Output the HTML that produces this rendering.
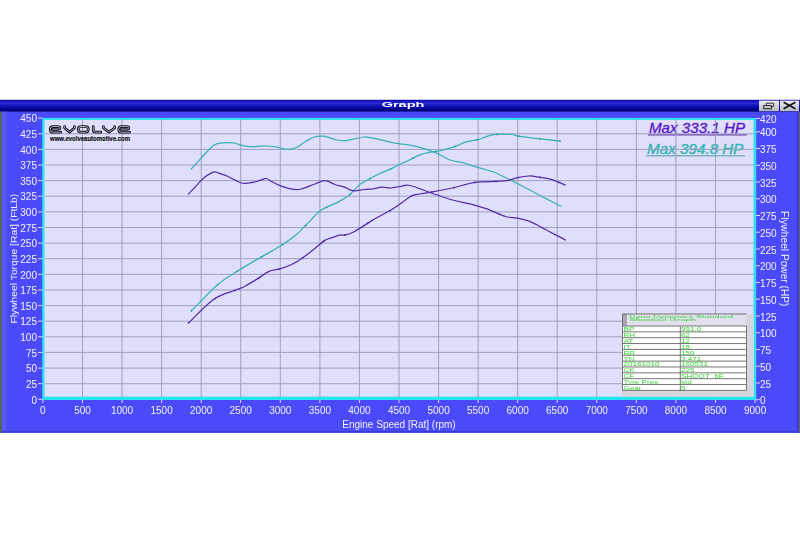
<!DOCTYPE html>
<html><head><meta charset="utf-8">
<style>
html,body{margin:0;padding:0;background:#fff;width:800px;height:533px;overflow:hidden}
svg{display:block;filter:blur(0.3px);font-family:"Liberation Sans",sans-serif}
</style></head><body>
<svg width="800" height="533" viewBox="0 0 800 533">
<defs>
<linearGradient id="tb" x1="0" y1="0" x2="0" y2="1">
<stop offset="0" stop-color="#000088"/>
<stop offset="0.1" stop-color="#1414c4"/>
<stop offset="0.32" stop-color="#2a2ad2"/>
<stop offset="0.5" stop-color="#1212b8"/>
<stop offset="0.7" stop-color="#0606a2"/>
<stop offset="0.88" stop-color="#000074"/>
<stop offset="1" stop-color="#000074"/>
</linearGradient>
<linearGradient id="btn" x1="0" y1="0" x2="0" y2="1">
<stop offset="0" stop-color="#ececf0"/>
<stop offset="1" stop-color="#b8b8c4"/>
</linearGradient>
</defs>
<!-- window -->
<rect x="0" y="100" width="800" height="332.7" fill="#4a4af8"/>
<rect x="0" y="431.2" width="800" height="1.5" fill="#3838d0"/>
<rect x="0" y="99.8" width="800" height="11.8" fill="url(#tb)"/>
<rect x="0" y="111.6" width="2" height="321.1" fill="#5c625e"/>
<rect x="2" y="111.6" width="4.6" height="319.6" fill="#5858fa"/>
<rect x="796.4" y="111.6" width="2.4" height="321.1" fill="#3c3cd8"/>
<rect x="798.8" y="111.6" width="1.2" height="321.1" fill="#5e6470"/>
<text x="0" y="0" transform="translate(403 107.3) scale(2.2 1)" text-anchor="middle" font-size="6.6" font-weight="bold" fill="#fff">Graph</text>
<!-- buttons -->
<rect x="759" y="100.6" width="20" height="10.6" fill="url(#btn)"/>
<rect x="780" y="100.6" width="19" height="10.6" fill="url(#btn)"/>
<rect x="763.8" y="105.6" width="7.6" height="3.2" fill="none" stroke="#222" stroke-width="1"/>
<path d="M766.3,105.1 v-1.9 h7.4 v3.2 h-1.9" fill="none" stroke="#222" stroke-width="0.9"/>
<path d="M783.6,102.2 L795.4,108.8 M795.4,102.2 L783.6,108.8" stroke="#111" stroke-width="1.6"/>
<!-- plot -->
<rect x="42.2" y="117.9" width="714" height="282.1" fill="#28e4f0"/>
<rect x="44.5" y="119.9" width="709" height="276.7" fill="#dfdefb"/>
<!-- max text -->
<text x="649" y="133.4" font-size="14.8" font-style="italic" fill="#5818c8" stroke="#5818c8" stroke-width="0.35" textLength="96" lengthAdjust="spacingAndGlyphs">Max 333.1 HP</text>
<rect x="648" y="134.3" width="99" height="1.2" fill="#6a3aa8"/>
<text x="647" y="153.5" font-size="14.8" font-style="italic" fill="#2eb6b0" stroke="#2eb6b0" stroke-width="0.35" textLength="96.5" lengthAdjust="spacingAndGlyphs">Max 394.8 HP</text>
<rect x="646" y="155.2" width="99" height="1.2" fill="#68a8b4"/>
<g stroke="#9c9cbc" stroke-width="0.95">
<line x1="82.5" y1="119.5" x2="82.5" y2="397.0"/>
<line x1="122.0" y1="119.5" x2="122.0" y2="397.0"/>
<line x1="161.6" y1="119.5" x2="161.6" y2="397.0"/>
<line x1="201.2" y1="119.5" x2="201.2" y2="397.0"/>
<line x1="240.7" y1="119.5" x2="240.7" y2="397.0"/>
<line x1="280.3" y1="119.5" x2="280.3" y2="397.0"/>
<line x1="319.9" y1="119.5" x2="319.9" y2="397.0"/>
<line x1="359.4" y1="119.5" x2="359.4" y2="397.0"/>
<line x1="399.0" y1="119.5" x2="399.0" y2="397.0"/>
<line x1="438.6" y1="119.5" x2="438.6" y2="397.0"/>
<line x1="478.1" y1="119.5" x2="478.1" y2="397.0"/>
<line x1="517.7" y1="119.5" x2="517.7" y2="397.0"/>
<line x1="557.2" y1="119.5" x2="557.2" y2="397.0"/>
<line x1="596.8" y1="119.5" x2="596.8" y2="397.0"/>
<line x1="636.4" y1="119.5" x2="636.4" y2="397.0"/>
<line x1="675.9" y1="119.5" x2="675.9" y2="397.0"/>
<line x1="715.5" y1="119.5" x2="715.5" y2="397.0"/>
<line x1="45.5" y1="383.7" x2="753.5" y2="383.7"/>
<line x1="45.5" y1="368.1" x2="753.5" y2="368.1"/>
<line x1="45.5" y1="352.4" x2="753.5" y2="352.4"/>
<line x1="45.5" y1="336.8" x2="753.5" y2="336.8"/>
<line x1="45.5" y1="321.2" x2="753.5" y2="321.2"/>
<line x1="45.5" y1="305.6" x2="753.5" y2="305.6"/>
<line x1="45.5" y1="290.0" x2="753.5" y2="290.0"/>
<line x1="45.5" y1="274.3" x2="753.5" y2="274.3"/>
<line x1="45.5" y1="258.7" x2="753.5" y2="258.7"/>
<line x1="45.5" y1="243.1" x2="753.5" y2="243.1"/>
<line x1="45.5" y1="227.5" x2="753.5" y2="227.5"/>
<line x1="45.5" y1="211.9" x2="753.5" y2="211.9"/>
<line x1="45.5" y1="196.2" x2="753.5" y2="196.2"/>
<line x1="45.5" y1="180.6" x2="753.5" y2="180.6"/>
<line x1="45.5" y1="165.0" x2="753.5" y2="165.0"/>
<line x1="45.5" y1="149.4" x2="753.5" y2="149.4"/>
<line x1="45.5" y1="133.8" x2="753.5" y2="133.8"/>
</g>
<!-- logo -->
<g fill="none" stroke-linecap="round" stroke-linejoin="round">
<defs><path id="lg" d="M60.8,132.2 H52.8 Q50.2,132.2 50.2,129.4 Q50.2,126.5 52.8,126.5 H58 Q60,126.5 60,127.8 Q60,129.1 58,129.1 H52.6
M64.6,126.5 V128 L69.5,132.1 L74.4,128 V126.5
M81,126.5 H85.6 Q88.3,126.5 88.3,129.35 Q88.3,132.2 85.6,132.2 H81 Q78.2,132.2 78.2,129.35 Q78.2,126.5 81,126.5 Z
M93.3,126.5 V130 Q93.3,132.2 95.5,132.2 H100.8
M103.4,126.5 V128 L109,132.1 L114.6,128 V126.5
M129.6,132.2 H121.3 Q118.7,132.2 118.7,129.4 Q118.7,126.5 121.3,126.5 H126.8 Q128.8,126.5 128.8,127.8 Q128.8,129.1 126.8,129.1 H121"/></defs>
<use href="#lg" stroke="#141420" stroke-width="2.7"/>
<use href="#lg" stroke="#e0def6" stroke-width="0.7"/>

</g>
<text x="50" y="140.8" font-size="7" font-weight="bold" fill="#111" stroke="#111" stroke-width="0.2" textLength="80" lengthAdjust="spacingAndGlyphs">www.evolveautomotive.com</text>
<!-- curves -->
<g fill="none" stroke-width="1.25" stroke-linejoin="round" stroke-linecap="round">
<path d="M191.2,169.0 C192.7,167.4 197.3,162.4 200.0,159.4 C202.7,156.4 205.2,153.6 207.5,151.2 C209.8,148.9 211.7,146.6 213.8,145.3 C215.8,144.0 217.3,143.6 220.0,143.2 C222.7,142.8 227.3,142.5 230.0,142.6 C232.7,142.7 233.8,142.9 236.2,143.5 C238.8,144.1 241.9,145.7 245.0,146.2 C248.1,146.7 251.5,146.5 255.0,146.5 C258.5,146.5 262.7,145.9 266.2,146.0 C269.8,146.1 274.0,146.6 276.2,146.9 C278.5,147.2 277.9,147.6 280.0,148.0 C282.1,148.4 286.2,149.4 289.0,149.3 C291.8,149.2 293.8,148.8 296.5,147.5 C299.2,146.2 302.5,143.2 305.5,141.5 C308.5,139.8 311.5,137.9 314.5,137.0 C317.5,136.1 319.8,135.8 323.5,136.2 C327.2,136.8 333.5,139.2 337.0,140.0 C340.5,140.8 341.8,140.9 344.5,140.8 C347.2,140.6 350.2,139.9 353.5,139.2 C356.8,138.6 360.8,137.2 364.0,137.0 C367.2,136.8 369.5,137.6 373.0,138.2 C376.5,138.8 381.5,139.9 385.0,140.8 C388.5,141.6 391.5,142.5 394.0,143.0 C396.5,143.5 396.5,143.2 400.0,143.8 C403.5,144.3 409.2,144.8 415.0,146.2 C420.8,147.7 429.2,150.2 435.0,152.5 C440.8,154.8 445.4,158.3 450.0,160.0 C454.6,161.7 459.2,161.7 462.5,162.5 C465.8,163.3 465.9,163.8 470.0,165.0 C474.1,166.2 482.4,168.6 486.9,170.0 C491.4,171.4 491.9,171.2 497.0,173.5 C502.1,175.8 510.5,180.1 517.3,183.5 C524.0,186.9 530.2,190.4 537.5,194.2 C544.8,198.0 557.1,204.2 561.0,206.2" stroke="#36b2b4"/>
<path d="M191.2,311.0 C195.7,306.6 210.3,291.1 218.2,284.3 C226.1,277.6 231.4,275.0 238.5,270.5 C245.6,266.0 253.8,261.4 261.0,257.2 C268.2,252.9 276.1,248.8 282.0,245.0 C287.9,241.2 292.6,237.8 296.5,234.5 C300.4,231.2 301.9,229.1 305.7,225.3 C309.5,221.5 315.7,214.6 319.2,211.5 C322.8,208.4 323.9,208.6 327.1,207.0 C330.3,205.4 334.8,203.8 338.4,201.9 C342.0,200.0 346.0,197.6 348.5,195.8 C351.0,193.9 351.8,192.5 353.6,190.7 C355.5,188.9 357.0,186.8 359.6,184.8 C362.2,182.8 366.0,180.8 369.4,178.9 C372.8,177.0 376.3,175.2 380.0,173.5 C383.7,171.8 388.8,169.8 391.8,168.4 C394.9,167.0 395.5,166.5 398.3,165.1 C401.1,163.7 406.2,161.5 408.8,160.2 C411.4,159.0 412.2,158.5 414.1,157.6 C416.0,156.7 417.7,155.6 420.0,154.8 C422.3,154.0 424.7,153.2 428.0,152.6 C431.3,151.9 435.1,151.9 439.7,150.9 C444.3,149.9 451.3,147.7 455.5,146.3 C459.7,144.9 461.0,143.4 464.7,142.3 C468.4,141.2 473.9,140.8 477.8,139.7 C481.7,138.6 484.8,136.7 488.3,135.8 C491.8,134.9 494.9,134.4 498.8,134.2 C502.8,134.0 508.5,134.1 512.0,134.5 C515.5,134.9 515.3,135.7 520.0,136.4 C524.7,137.1 533.3,137.9 540.0,138.8 C546.7,139.6 556.7,140.8 560.0,141.2" stroke="#36b2b4"/>
<path d="M188.4,194.1 C189.4,193.0 192.6,189.7 194.6,187.6 C196.6,185.5 198.4,183.3 200.2,181.4 C202.1,179.5 203.8,177.8 205.9,176.3 C208.0,174.8 211.0,173.1 212.6,172.4 C214.2,171.7 214.3,171.8 215.5,172.0 C216.7,172.2 217.5,172.7 219.5,173.4 C221.5,174.1 224.1,174.7 227.5,176.2 C230.9,177.8 236.8,181.3 240.0,182.5 C243.2,183.7 244.2,183.5 246.5,183.4 C248.8,183.3 251.8,182.7 254.0,182.2 C256.2,181.7 258.0,181.0 260.0,180.4 C262.0,179.8 264.4,178.4 266.2,178.5 C268.1,178.6 269.0,180.0 271.2,181.2 C273.5,182.4 276.5,184.3 280.0,185.6 C283.5,186.9 288.5,188.6 292.0,189.2 C295.5,189.8 297.5,189.9 301.2,189.0 C305.0,188.1 310.8,185.4 314.8,184.0 C318.7,182.6 321.6,180.6 325.0,180.7 C328.4,180.8 331.8,183.4 335.0,184.5 C338.2,185.6 341.5,186.2 344.5,187.2 C347.5,188.3 349.8,190.3 353.0,190.7 C356.2,191.1 360.7,189.8 364.0,189.5 C367.3,189.2 370.0,189.1 373.0,188.8 C376.0,188.4 379.0,187.4 382.0,187.2 C385.0,187.1 388.0,188.1 391.0,188.0 C394.0,187.9 396.8,186.9 400.0,186.5 C403.2,186.1 405.0,184.5 410.0,185.5 C415.0,186.5 422.9,190.1 430.0,192.5 C437.1,194.9 445.8,198.1 452.5,200.0 C459.2,201.9 464.3,202.4 470.0,203.9 C475.7,205.4 481.0,206.8 486.9,208.9 C492.8,211.0 500.3,214.9 505.4,216.5 C510.5,218.1 513.4,217.4 517.3,218.2 C521.2,219.0 525.6,220.0 529.0,221.2 C532.4,222.4 534.7,223.8 537.5,225.2 C540.3,226.6 541.4,227.3 546.0,229.8 C550.6,232.3 562.2,238.3 565.4,240.0" stroke="#542ca4"/>
<path d="M188.6,322.9 C192.9,318.8 207.0,304.0 214.9,298.6 C222.8,293.1 230.9,292.1 235.9,290.0 C240.9,287.9 241.0,288.4 245.0,286.2 C249.0,284.1 255.7,279.9 259.7,277.4 C263.7,274.9 265.6,272.7 269.0,271.3 C272.4,269.9 276.2,270.1 280.1,268.9 C284.0,267.7 288.9,265.8 292.6,264.0 C296.3,262.2 298.9,260.5 302.4,258.1 C305.9,255.7 309.9,252.6 313.6,249.6 C317.3,246.6 321.7,242.4 324.8,240.4 C327.8,238.4 329.5,238.6 332.0,237.7 C334.5,236.8 337.8,235.6 340.0,235.1 C342.2,234.6 342.8,235.5 345.1,234.9 C347.5,234.3 349.4,234.3 354.1,231.8 C358.8,229.2 367.4,223.1 373.4,219.6 C379.3,216.1 385.6,213.1 389.8,210.7 C394.0,208.3 394.7,207.6 398.3,205.2 C401.9,202.8 408.0,197.9 411.5,196.0 C415.0,194.1 416.3,194.6 419.4,194.0 C422.5,193.4 424.5,193.3 430.0,192.3 C435.5,191.3 445.0,189.7 452.5,188.0 C460.0,186.3 467.9,183.4 475.0,182.3 C482.1,181.2 490.0,181.7 495.3,181.4 C500.6,181.1 503.3,181.2 507.0,180.6 C510.7,180.0 513.6,178.5 517.3,177.7 C521.0,176.9 525.4,176.1 529.0,176.0 C532.6,175.9 535.5,176.6 539.2,177.2 C542.9,177.8 546.6,178.1 551.0,179.4 C555.4,180.7 563.0,184.1 565.4,185.0" stroke="#542ca4"/>
</g>
<circle cx="191.5" cy="310.7" r="0.85" fill="#249c9c"/>
<circle cx="217.5" cy="285.0" r="0.85" fill="#249c9c"/>
<circle cx="237.5" cy="271.2" r="0.85" fill="#249c9c"/>
<circle cx="261.5" cy="256.9" r="0.85" fill="#249c9c"/>
<circle cx="282.5" cy="244.6" r="0.85" fill="#249c9c"/>
<circle cx="305.5" cy="225.5" r="0.85" fill="#249c9c"/>
<circle cx="326.5" cy="207.3" r="0.85" fill="#249c9c"/>
<circle cx="350.0" cy="194.3" r="0.85" fill="#249c9c"/>
<circle cx="370.0" cy="178.6" r="0.85" fill="#249c9c"/>
<circle cx="390.5" cy="169.0" r="0.85" fill="#249c9c"/>
<circle cx="413.0" cy="158.2" r="0.85" fill="#249c9c"/>
<circle cx="436.0" cy="151.4" r="0.85" fill="#249c9c"/>
<circle cx="455.0" cy="146.4" r="0.85" fill="#249c9c"/>
<circle cx="476.5" cy="140.0" r="0.85" fill="#249c9c"/>
<circle cx="497.5" cy="134.4" r="0.85" fill="#249c9c"/>
<circle cx="519.0" cy="136.2" r="0.85" fill="#249c9c"/>
<circle cx="540.0" cy="138.8" r="0.85" fill="#249c9c"/>
<circle cx="560.0" cy="141.2" r="0.85" fill="#249c9c"/>
<circle cx="188.5" cy="322.9" r="0.85" fill="#4e20a4"/>
<circle cx="215.0" cy="298.5" r="0.85" fill="#4e20a4"/>
<circle cx="235.0" cy="290.4" r="0.85" fill="#4e20a4"/>
<circle cx="259.0" cy="277.8" r="0.85" fill="#4e20a4"/>
<circle cx="279.0" cy="269.1" r="0.85" fill="#4e20a4"/>
<circle cx="302.5" cy="258.0" r="0.85" fill="#4e20a4"/>
<circle cx="323.5" cy="241.4" r="0.85" fill="#4e20a4"/>
<circle cx="345.0" cy="234.9" r="0.85" fill="#4e20a4"/>
<circle cx="367.5" cy="223.3" r="0.85" fill="#4e20a4"/>
<circle cx="390.0" cy="210.6" r="0.85" fill="#4e20a4"/>
<circle cx="411.5" cy="196.0" r="0.85" fill="#4e20a4"/>
<circle cx="431.5" cy="192.0" r="0.85" fill="#4e20a4"/>
<circle cx="454.0" cy="187.6" r="0.85" fill="#4e20a4"/>
<circle cx="475.0" cy="182.3" r="0.85" fill="#4e20a4"/>
<circle cx="496.0" cy="181.4" r="0.85" fill="#4e20a4"/>
<circle cx="518.5" cy="177.5" r="0.85" fill="#4e20a4"/>
<circle cx="540.0" cy="177.3" r="0.85" fill="#4e20a4"/>
<circle cx="559.0" cy="182.5" r="0.85" fill="#4e20a4"/>
<!-- table panel -->
<rect x="622" y="313.5" width="131.6" height="83.1" fill="#d6d4dc"/>
<rect x="622.5" y="314" width="124" height="12" fill="#e2e0ee"/>
<rect x="622.5" y="314" width="4.5" height="12" fill="#a8a8b0"/>
<rect x="623" y="326.00" width="123.5" height="5.85" fill="#fff"/>
<rect x="623" y="331.85" width="123.5" height="5.85" fill="#fff"/>
<rect x="623" y="337.71" width="123.5" height="5.85" fill="#fff"/>
<rect x="623" y="343.56" width="123.5" height="5.85" fill="#fff"/>
<rect x="623" y="349.42" width="123.5" height="5.85" fill="#fff"/>
<rect x="623" y="355.27" width="123.5" height="5.85" fill="#fff"/>
<rect x="623" y="361.13" width="123.5" height="5.85" fill="#fff"/>
<rect x="623" y="366.98" width="123.5" height="5.85" fill="#fff"/>
<rect x="623" y="372.84" width="123.5" height="5.85" fill="#fff"/>
<rect x="623" y="378.69" width="123.5" height="5.85" fill="#fff"/>
<rect x="623" y="384.55" width="123.5" height="5.85" fill="#fff"/>
<g stroke="#686868" stroke-width="0.9"><line x1="622.5" y1="326.00" x2="746.5" y2="326.00"/>
<line x1="622.5" y1="331.85" x2="746.5" y2="331.85"/>
<line x1="622.5" y1="337.71" x2="746.5" y2="337.71"/>
<line x1="622.5" y1="343.56" x2="746.5" y2="343.56"/>
<line x1="622.5" y1="349.42" x2="746.5" y2="349.42"/>
<line x1="622.5" y1="355.27" x2="746.5" y2="355.27"/>
<line x1="622.5" y1="361.13" x2="746.5" y2="361.13"/>
<line x1="622.5" y1="366.98" x2="746.5" y2="366.98"/>
<line x1="622.5" y1="372.84" x2="746.5" y2="372.84"/>
<line x1="622.5" y1="378.69" x2="746.5" y2="378.69"/>
<line x1="622.5" y1="384.55" x2="746.5" y2="384.55"/>
<line x1="622.5" y1="390.40" x2="746.5" y2="390.40"/></g>
<g stroke="#6a6a6a" stroke-width="0.9">
<line x1="622.5" y1="314" x2="746.5" y2="314"/>
<line x1="622.5" y1="314" x2="622.5" y2="390.4"/>
<line x1="746.5" y1="326" x2="746.5" y2="390.4"/>
<line x1="680.3" y1="326" x2="680.3" y2="390.4"/>
</g>
<g font-size="5.6" fill="#38d438">
<text x="623.5" y="331.25" transform="translate(623.5 331.25) scale(1.45 1) translate(-623.5 -331.25)">BP</text>
<text x="681" y="331.25" transform="translate(681 331.25) scale(1.45 1) translate(-681 -331.25)">991.0</text>
<text x="623.5" y="337.11" transform="translate(623.5 337.11) scale(1.45 1) translate(-623.5 -337.11)">RH</text>
<text x="681" y="337.11" transform="translate(681 337.11) scale(1.45 1) translate(-681 -337.11)">62</text>
<text x="623.5" y="342.96" transform="translate(623.5 342.96) scale(1.45 1) translate(-623.5 -342.96)">AT</text>
<text x="681" y="342.96" transform="translate(681 342.96) scale(1.45 1) translate(-681 -342.96)">12</text>
<text x="623.5" y="348.82" transform="translate(623.5 348.82) scale(1.45 1) translate(-623.5 -348.82)">IT</text>
<text x="681" y="348.82" transform="translate(681 348.82) scale(1.45 1) translate(-681 -348.82)">18</text>
<text x="623.5" y="354.67" transform="translate(623.5 354.67) scale(1.45 1) translate(-623.5 -354.67)">RR</text>
<text x="681" y="354.67" transform="translate(681 354.67) scale(1.45 1) translate(-681 -354.67)">150</text>
<text x="623.5" y="360.53" transform="translate(623.5 360.53) scale(1.45 1) translate(-623.5 -360.53)">TN</text>
<text x="681" y="360.53" transform="translate(681 360.53) scale(1.45 1) translate(-681 -360.53)">3.471</text>
<text x="623.5" y="366.38" transform="translate(623.5 366.38) scale(1.45 1) translate(-623.5 -366.38)">20161010</text>
<text x="681" y="366.38" transform="translate(681 366.38) scale(1.45 1) translate(-681 -366.38)">160531</text>
<text x="623.5" y="372.24" transform="translate(623.5 372.24) scale(1.45 1) translate(-623.5 -372.24)">CK</text>
<text x="681" y="372.24" transform="translate(681 372.24) scale(1.45 1) translate(-681 -372.24)">225</text>
<text x="623.5" y="378.09" transform="translate(623.5 378.09) scale(1.45 1) translate(-623.5 -378.09)">CF</text>
<text x="681" y="378.09" transform="translate(681 378.09) scale(1.45 1) translate(-681 -378.09)">SHOOT_6F</text>
<text x="623.5" y="383.95" transform="translate(623.5 383.95) scale(1.45 1) translate(-623.5 -383.95)">Tyre Pres</text>
<text x="681" y="383.95" transform="translate(681 383.95) scale(1.45 1) translate(-681 -383.95)">std</text>
<text x="623.5" y="389.80" transform="translate(623.5 389.80) scale(1.45 1) translate(-623.5 -389.80)">Gear</text>
<text x="681" y="389.80" transform="translate(681 389.80) scale(1.45 1) translate(-681 -389.80)">5</text>
<text x="629" y="318.3" font-size="3.4" textLength="104" lengthAdjust="spacingAndGlyphs">Dyno Dynamics Standard</text>
<text x="629" y="320.9" font-size="3.4" textLength="67" lengthAdjust="spacingAndGlyphs">Shootout Graph</text>
</g>
<!-- ticks & labels -->
<g stroke="#e8d0f0" stroke-width="1">
<line x1="38" y1="399.3" x2="42.5" y2="399.3"/>
<line x1="38" y1="383.7" x2="42.5" y2="383.7"/>
<line x1="38" y1="368.1" x2="42.5" y2="368.1"/>
<line x1="38" y1="352.4" x2="42.5" y2="352.4"/>
<line x1="38" y1="336.8" x2="42.5" y2="336.8"/>
<line x1="38" y1="321.2" x2="42.5" y2="321.2"/>
<line x1="38" y1="305.6" x2="42.5" y2="305.6"/>
<line x1="38" y1="290.0" x2="42.5" y2="290.0"/>
<line x1="38" y1="274.3" x2="42.5" y2="274.3"/>
<line x1="38" y1="258.7" x2="42.5" y2="258.7"/>
<line x1="38" y1="243.1" x2="42.5" y2="243.1"/>
<line x1="38" y1="227.5" x2="42.5" y2="227.5"/>
<line x1="38" y1="211.9" x2="42.5" y2="211.9"/>
<line x1="38" y1="196.2" x2="42.5" y2="196.2"/>
<line x1="38" y1="180.6" x2="42.5" y2="180.6"/>
<line x1="38" y1="165.0" x2="42.5" y2="165.0"/>
<line x1="38" y1="149.4" x2="42.5" y2="149.4"/>
<line x1="38" y1="133.8" x2="42.5" y2="133.8"/>
<line x1="38" y1="118.1" x2="42.5" y2="118.1"/>
<line x1="756" y1="399.7" x2="760" y2="399.7"/>
<line x1="756" y1="383.0" x2="760" y2="383.0"/>
<line x1="756" y1="366.2" x2="760" y2="366.2"/>
<line x1="756" y1="349.5" x2="760" y2="349.5"/>
<line x1="756" y1="332.7" x2="760" y2="332.7"/>
<line x1="756" y1="316.0" x2="760" y2="316.0"/>
<line x1="756" y1="299.2" x2="760" y2="299.2"/>
<line x1="756" y1="282.5" x2="760" y2="282.5"/>
<line x1="756" y1="265.7" x2="760" y2="265.7"/>
<line x1="756" y1="249.0" x2="760" y2="249.0"/>
<line x1="756" y1="232.2" x2="760" y2="232.2"/>
<line x1="756" y1="215.5" x2="760" y2="215.5"/>
<line x1="756" y1="198.8" x2="760" y2="198.8"/>
<line x1="756" y1="182.0" x2="760" y2="182.0"/>
<line x1="756" y1="165.3" x2="760" y2="165.3"/>
<line x1="756" y1="148.5" x2="760" y2="148.5"/>
<line x1="756" y1="131.8" x2="760" y2="131.8"/>
<line x1="756" y1="118.4" x2="760" y2="118.4"/>
<line x1="42.9" y1="400" x2="42.9" y2="403"/>
<line x1="82.5" y1="400" x2="82.5" y2="403"/>
<line x1="122.0" y1="400" x2="122.0" y2="403"/>
<line x1="161.6" y1="400" x2="161.6" y2="403"/>
<line x1="201.2" y1="400" x2="201.2" y2="403"/>
<line x1="240.7" y1="400" x2="240.7" y2="403"/>
<line x1="280.3" y1="400" x2="280.3" y2="403"/>
<line x1="319.9" y1="400" x2="319.9" y2="403"/>
<line x1="359.4" y1="400" x2="359.4" y2="403"/>
<line x1="399.0" y1="400" x2="399.0" y2="403"/>
<line x1="438.6" y1="400" x2="438.6" y2="403"/>
<line x1="478.1" y1="400" x2="478.1" y2="403"/>
<line x1="517.7" y1="400" x2="517.7" y2="403"/>
<line x1="557.2" y1="400" x2="557.2" y2="403"/>
<line x1="596.8" y1="400" x2="596.8" y2="403"/>
<line x1="636.4" y1="400" x2="636.4" y2="403"/>
<line x1="675.9" y1="400" x2="675.9" y2="403"/>
<line x1="715.5" y1="400" x2="715.5" y2="403"/>
<line x1="755.1" y1="400" x2="755.1" y2="403"/>
</g>
<g font-size="10" fill="#f2f2ff">
<text x="37" y="403.5" text-anchor="end">0</text>
<text x="37" y="387.9" text-anchor="end">25</text>
<text x="37" y="372.3" text-anchor="end">50</text>
<text x="37" y="356.6" text-anchor="end">75</text>
<text x="37" y="341.0" text-anchor="end">100</text>
<text x="37" y="325.4" text-anchor="end">125</text>
<text x="37" y="309.8" text-anchor="end">150</text>
<text x="37" y="294.2" text-anchor="end">175</text>
<text x="37" y="278.5" text-anchor="end">200</text>
<text x="37" y="262.9" text-anchor="end">225</text>
<text x="37" y="247.3" text-anchor="end">250</text>
<text x="37" y="231.7" text-anchor="end">275</text>
<text x="37" y="216.1" text-anchor="end">300</text>
<text x="37" y="200.4" text-anchor="end">325</text>
<text x="37" y="184.8" text-anchor="end">350</text>
<text x="37" y="169.2" text-anchor="end">375</text>
<text x="37" y="153.6" text-anchor="end">400</text>
<text x="37" y="138.0" text-anchor="end">425</text>
<text x="37" y="122.3" text-anchor="end">450</text>
<text x="760" y="404.3">0</text>
<text x="760" y="387.6">25</text>
<text x="760" y="370.8">50</text>
<text x="760" y="354.1">75</text>
<text x="760" y="337.3">100</text>
<text x="760" y="320.6">125</text>
<text x="760" y="303.8">150</text>
<text x="760" y="287.1">175</text>
<text x="760" y="270.3">200</text>
<text x="760" y="253.6">225</text>
<text x="760" y="236.8">250</text>
<text x="760" y="220.1">275</text>
<text x="760" y="203.4">300</text>
<text x="760" y="186.6">325</text>
<text x="760" y="169.9">350</text>
<text x="760" y="153.1">375</text>
<text x="760" y="136.4">400</text>
<text x="760" y="123.0">420</text>
<text x="42.9" y="414.4" text-anchor="middle">0</text>
<text x="82.5" y="414.4" text-anchor="middle">500</text>
<text x="122.0" y="414.4" text-anchor="middle">1000</text>
<text x="161.6" y="414.4" text-anchor="middle">1500</text>
<text x="201.2" y="414.4" text-anchor="middle">2000</text>
<text x="240.7" y="414.4" text-anchor="middle">2500</text>
<text x="280.3" y="414.4" text-anchor="middle">3000</text>
<text x="319.9" y="414.4" text-anchor="middle">3500</text>
<text x="359.4" y="414.4" text-anchor="middle">4000</text>
<text x="399.0" y="414.4" text-anchor="middle">4500</text>
<text x="438.6" y="414.4" text-anchor="middle">5000</text>
<text x="478.1" y="414.4" text-anchor="middle">5500</text>
<text x="517.7" y="414.4" text-anchor="middle">6000</text>
<text x="557.2" y="414.4" text-anchor="middle">6500</text>
<text x="596.8" y="414.4" text-anchor="middle">7000</text>
<text x="636.4" y="414.4" text-anchor="middle">7500</text>
<text x="675.9" y="414.4" text-anchor="middle">8000</text>
<text x="715.5" y="414.4" text-anchor="middle">8500</text>
<text x="755.1" y="414.4" text-anchor="middle">9000</text>
</g>
<text x="0" y="0" transform="translate(16.9 258.7) rotate(-90)" text-anchor="middle" font-size="9.7" textLength="129.8" lengthAdjust="spacingAndGlyphs" fill="#f2f2ff">Flywheel Torque [Rat] (FtLb)</text>
<text x="0" y="0" transform="translate(781 258.7) rotate(90)" text-anchor="middle" font-size="10.1" textLength="95.5" lengthAdjust="spacingAndGlyphs" fill="#f2f2ff">Flywheel Power (HP)</text>
<text x="399" y="427.5" text-anchor="middle" font-size="10" fill="#f2f2ff">Engine Speed [Rat] (rpm)</text>
</svg>
</body></html>
